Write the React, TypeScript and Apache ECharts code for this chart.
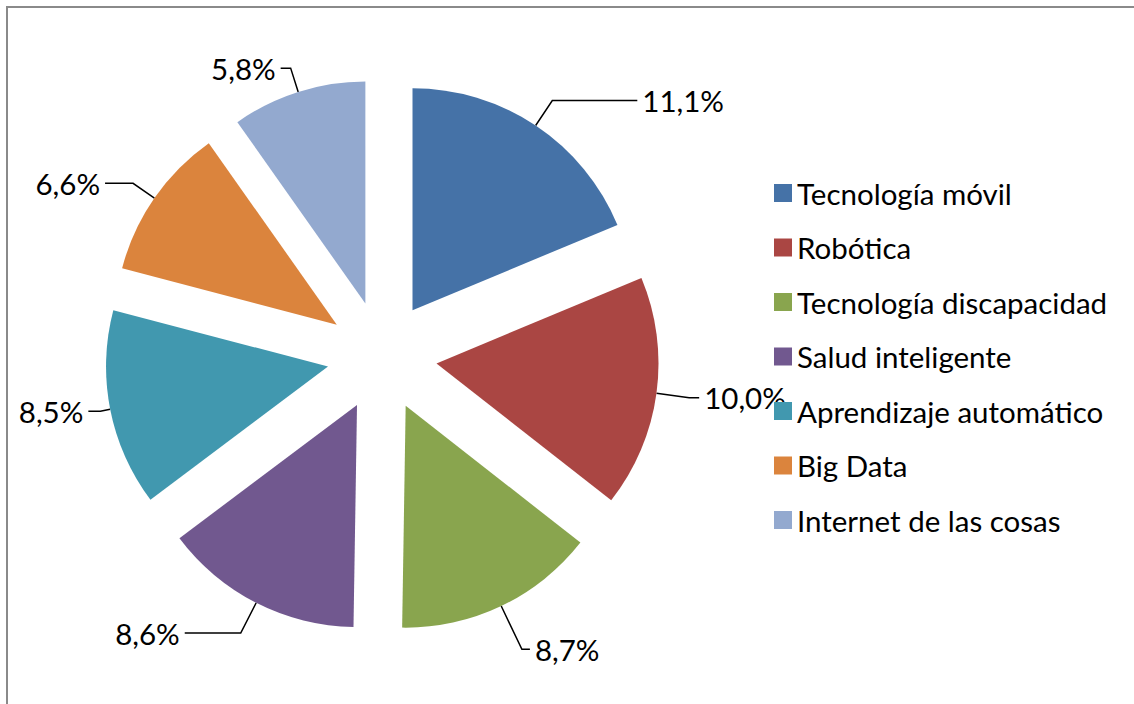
import React, { useEffect, useRef } from "react";
import * as echarts from "echarts";

const categories = [
  "Tecnología móvil",
  "Robótica",
  "Tecnología discapacidad",
  "Salud inteligente",
  "Aprendizaje automático",
  "Big Data",
  "Internet de las cosas",
];
const values = [11.1, 10.0, 8.7, 8.6, 8.5, 6.6, 5.8];
const colors = ["#4572A7", "#AA4643", "#89A54E", "#71588F", "#4198AF", "#DB843D", "#93A9CF"];
// leader-line segment lengths per slice (style only)
const leaderLen1 = [30, 33, 48, 34, 10, 26, 25];
const leaderLen2 = [85, 10, 8, 56, 12, 28, 10];

const FONT = "Lato, 'Noto Sans', sans-serif";

export default function App() {
  const ref = useRef<HTMLDivElement>(null);
  useEffect(() => {
    if (!ref.current) return;
    const chart = echarts.init(ref.current, null, { renderer: "svg" });
    chart.setOption({
      animation: false,
      backgroundColor: "#ffffff",
      color: colors,
      graphic: [
        {
          type: "rect",
          shape: { x: 7, y: 7, width: 1300, height: 900 },
          style: { fill: "none", stroke: "#8a8a8a", lineWidth: 2 },
          silent: true,
          z: -1,
        },
      ],
      legend: {
        orient: "vertical",
        left: 774,
        top: 178,
        padding: 0,
        itemWidth: 18,
        itemHeight: 18,
        itemGap: 24.5,
        icon: "rect",
        selectedMode: false,
        textStyle: { fontFamily: FONT, fontSize: 29.5, color: "#000", lineHeight: 29, padding: [0, 0, 0, 0] },
        data: categories,
      },
      series: [
        {
          type: "pie",
          center: [382, 356],
          radius: 222,
          startAngle: 90,
          clockwise: true,
          selectedMode: "multiple",
          selectedOffset: 55,
          avoidLabelOverlap: false,
          emphasis: { disabled: true },
          select: { itemStyle: {} },
          label: {
            show: true,
            position: "outside",
            fontFamily: FONT,
            fontSize: 29.5,
            color: "#000",
            formatter: (p: any) => p.value.toFixed(1).replace(".", ",") + "%",
          },
          labelLine: {
            show: true,
            length: 30,
            length2: 10,
            lineStyle: { color: "#000", width: 1.5 },
          },
          data: categories.map((name, i) => ({
            name,
            value: values[i],
            selected: true,
            itemStyle: { color: colors[i] },
            labelLine: { length: leaderLen1[i], length2: leaderLen2[i] },
          })),
        },
      ],
    });
    return () => chart.dispose();
  }, []);
  return (
    <div
      ref={ref}
      style={{ position: "fixed", left: 0, top: 0, width: 1134, height: 704 }}
    />
  );
}
